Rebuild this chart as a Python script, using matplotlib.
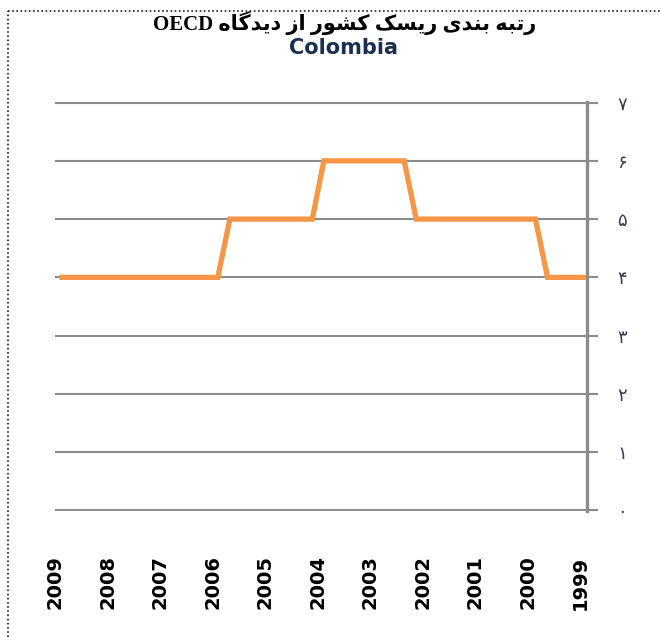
import matplotlib
matplotlib.use("Agg")
import matplotlib.pyplot as plt

# chart data (x in year units, axis runs 2009 -> 1999)
years = [2009, 2008, 2007, 2006, 2005, 2004, 2003, 2002, 2001, 2000, 1999]
year_labels = [str(y) for y in years]
line_x = [2008.87, 2005.90, 2005.67, 2004.10, 2003.88, 2002.35, 2002.12, 1999.85, 1999.62, 1998.94]
line_y = [4, 4, 5, 5, 6, 6, 5, 5, 4, 4]
rank_ticks = [0, 1, 2, 3, 4, 5, 6, 7]
rank_labels = ["\u06f0", "\u06f1", "\u06f2", "\u06f3", "\u06f4", "\u06f5", "\u06f6", "\u06f7"]

# persian title, already shaped and in visual order (matplotlib has no bidi)
word_didgah = "\ufee9\ufe8e\ufb94\ufeaa\ufbfe\ufea9"
word_az = "\ufeaf\ufe8d"
word_keshvar = "\ufead\ufeee\ufeb8\ufb90"
word_risk = "\ufb8f\ufeb4\ufbfe\ufead"
word_bandi = "\ufbfc\ufeaa\ufee8\ufe91"
word_rotbe = "\ufeea\ufe92\ufe97\ufead"
title_fa = " ".join(["OECD", word_didgah, word_az, word_keshvar, word_risk, word_bandi, word_rotbe])
subtitle = "Colombia"

fig = plt.figure(figsize=(6.61, 6.37), dpi=100)
fig.patch.set_facecolor("white")

ax = fig.add_axes([55 / 661, 1 - 511 / 637, (587 - 55) / 661, (511 - 102) / 637])
ax.plot(line_x, line_y, color="#F79646", lw=3.8, solid_joinstyle="miter", zorder=3)

ax.set_xlim(2008.924, 1998.868)
ax.set_ylim(-0.01, 7.01)

ax.set_yticks(rank_ticks)
ax.set_yticklabels(rank_labels, family=["DejaVu Sans"], fontsize=13, color="#3c3c50")
ax.yaxis.tick_right()
ax.tick_params(axis="y", direction="out", length=8, width=1.5, color="#8c8c8c", pad=14)
ax.grid(axis="y", color="#8c8c8c", lw=1.5)
ax.set_axisbelow(True)

ax.set_xticks(years)
ax.set_xticklabels(year_labels, rotation=90, fontsize=14, fontweight="bold",
                   family=["DejaVu Sans"], va="top")
ax.tick_params(axis="x", length=0, pad=32)

for side in ["left", "top", "bottom"]:
    ax.spines[side].set_visible(False)
ax.spines["right"].set_color("#8c8c8c")
ax.spines["right"].set_linewidth(2.4)

fig.text(0.522, 1 - 23 / 637, title_fa, ha="center", va="center", fontsize=15,
         fontweight="bold", family=["Liberation Serif", "DejaVu Sans"])
fig.text(0.519, 1 - 48 / 637, subtitle, ha="center", va="center", fontsize=15,
         fontweight="bold", color="#1a2f4f", family=["DejaVu Sans"])

# dotted frame on top and left
fig.add_artist(plt.Line2D([8 / 661, 1], [1 - 11 / 637, 1 - 11 / 637], transform=fig.transFigure,
                          color="#222222", lw=1.2, ls=(0, (1, 1.5))))
fig.add_artist(plt.Line2D([8 / 661, 8 / 661], [0, 1 - 11 / 637], transform=fig.transFigure,
                          color="#222222", lw=1.2, ls=(0, (1, 1.5))))

fig.savefig("out.png", dpi=100, facecolor="white")
